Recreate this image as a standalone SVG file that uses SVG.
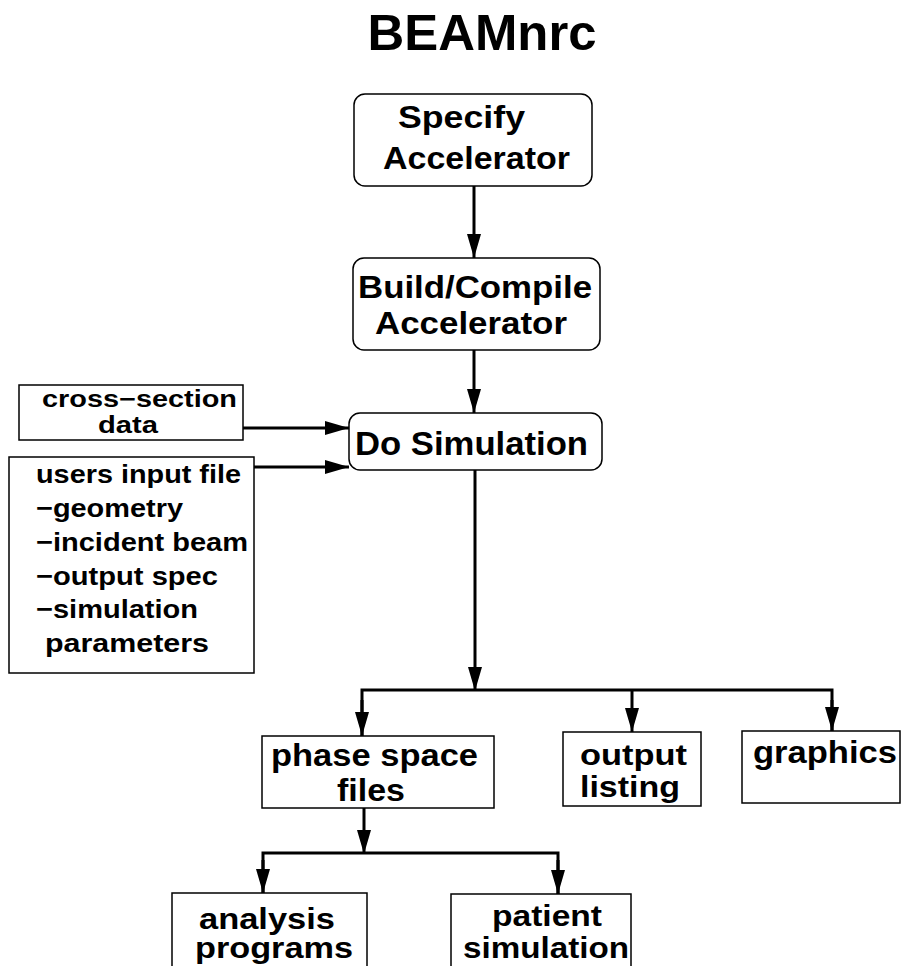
<svg xmlns="http://www.w3.org/2000/svg" width="902" height="966" viewBox="0 0 902 966">
<style>
text{font-family:"Liberation Sans",Arial,Helvetica,sans-serif;font-weight:bold;fill:#000}
.box{fill:#fff;stroke:#000;stroke-width:1.5}
.c{stroke:#000;stroke-width:3;fill:none}
.t{font-size:32px}
.u{font-size:29px}
.s{font-size:26px}
</style>
<defs>
<marker id="ah" markerUnits="userSpaceOnUse" markerWidth="24" markerHeight="14" refX="24" refY="7" orient="auto">
<path d="M0,0 L24,7 L0,14 z" fill="#000"/>
</marker>
</defs>
<rect width="902" height="966" fill="#fff"/>
<text x="482" y="50" font-size="50" text-anchor="middle" textLength="229" lengthAdjust="spacingAndGlyphs">BEAMnrc</text>

<g id="connectors">
<line class="c" x1="474" y1="186" x2="474" y2="258" marker-end="url(#ah)"/>
<line class="c" x1="474" y1="350" x2="474" y2="413" marker-end="url(#ah)"/>
<line class="c" x1="243" y1="428" x2="349" y2="428" marker-end="url(#ah)"/>
<line class="c" x1="254" y1="467" x2="349" y2="467" marker-end="url(#ah)"/>
<line class="c" x1="475" y1="470" x2="475" y2="691" marker-end="url(#ah)"/>
<polyline class="c" points="362,736 362,690 832,690 832,731"/>
<line class="c" x1="362" y1="700" x2="362" y2="736" marker-end="url(#ah)"/>
<line class="c" x1="832" y1="700" x2="832" y2="731" marker-end="url(#ah)"/>
<line class="c" x1="632" y1="690" x2="632" y2="732" marker-end="url(#ah)"/>
<line class="c" x1="364" y1="808" x2="364" y2="854" marker-end="url(#ah)"/>
<polyline class="c" points="263,893 263,853 558,853 558,894"/>
<line class="c" x1="263" y1="860" x2="263" y2="893" marker-end="url(#ah)"/>
<line class="c" x1="558" y1="860" x2="558" y2="894" marker-end="url(#ah)"/>
</g>

<g id="specify">
<rect class="box" x="354" y="94" width="238" height="92" rx="11"/>
<text class="t" x="398" y="128" textLength="127" lengthAdjust="spacingAndGlyphs">Specify</text>
<text class="t" x="383" y="169" textLength="187" lengthAdjust="spacingAndGlyphs">Accelerator</text>
</g>

<g id="build">
<rect class="box" x="353" y="258" width="247" height="92" rx="11"/>
<text class="t" x="358" y="298" textLength="234" lengthAdjust="spacingAndGlyphs">Build/Compile</text>
<text class="t" x="375" y="334" textLength="192" lengthAdjust="spacingAndGlyphs">Accelerator</text>
</g>

<g id="dosim">
<rect class="box" x="349" y="413" width="253" height="57" rx="11"/>
<text x="355" y="455" font-size="34" textLength="233" lengthAdjust="spacingAndGlyphs">Do Simulation</text>
</g>

<g id="crosssection">
<rect class="box" x="19" y="385" width="224" height="55"/>
<text x="42" y="407" font-size="23" textLength="195" lengthAdjust="spacingAndGlyphs">cross−section</text>
<text x="98" y="433" font-size="23" textLength="60" lengthAdjust="spacingAndGlyphs">data</text>
</g>

<g id="usersinput">
<rect class="box" x="9" y="457" width="245" height="216"/>
<text class="s" x="36" y="483" textLength="205" lengthAdjust="spacingAndGlyphs">users input file</text>
<text class="s" x="36" y="517" textLength="147" lengthAdjust="spacingAndGlyphs">−geometry</text>
<text class="s" x="36" y="551" textLength="212" lengthAdjust="spacingAndGlyphs">−incident beam</text>
<text class="s" x="36" y="585" textLength="182" lengthAdjust="spacingAndGlyphs">−output spec</text>
<text class="s" x="36" y="618" textLength="162" lengthAdjust="spacingAndGlyphs">−simulation</text>
<text class="s" x="45" y="652" textLength="164" lengthAdjust="spacingAndGlyphs">parameters</text>
</g>

<g id="phasespace">
<rect class="box" x="262" y="736" width="232" height="72"/>
<text class="t" x="271" y="766" textLength="207" lengthAdjust="spacingAndGlyphs">phase space</text>
<text class="t" x="337" y="801" textLength="68" lengthAdjust="spacingAndGlyphs">files</text>
</g>

<g id="outputlisting">
<rect class="box" x="563" y="732" width="138" height="74"/>
<text class="u" x="580" y="765" textLength="107" lengthAdjust="spacingAndGlyphs">output</text>
<text class="u" x="580" y="797" textLength="100" lengthAdjust="spacingAndGlyphs">listing</text>
</g>

<g id="graphics">
<rect class="box" x="742" y="731" width="158" height="72"/>
<text class="t" x="753" y="763" textLength="144" lengthAdjust="spacingAndGlyphs">graphics</text>
</g>

<g id="analysis">
<rect class="box" x="172" y="893" width="195" height="90"/>
<text class="u" x="199" y="929" textLength="136" lengthAdjust="spacingAndGlyphs">analysis</text>
<text class="u" x="195" y="958" textLength="158" lengthAdjust="spacingAndGlyphs">programs</text>
</g>

<g id="patient">
<rect class="box" x="451" y="894" width="180" height="90"/>
<text class="u" x="492" y="926" textLength="110" lengthAdjust="spacingAndGlyphs">patient</text>
<text class="u" x="463" y="958" textLength="166" lengthAdjust="spacingAndGlyphs">simulation</text>
</g>
</svg>
